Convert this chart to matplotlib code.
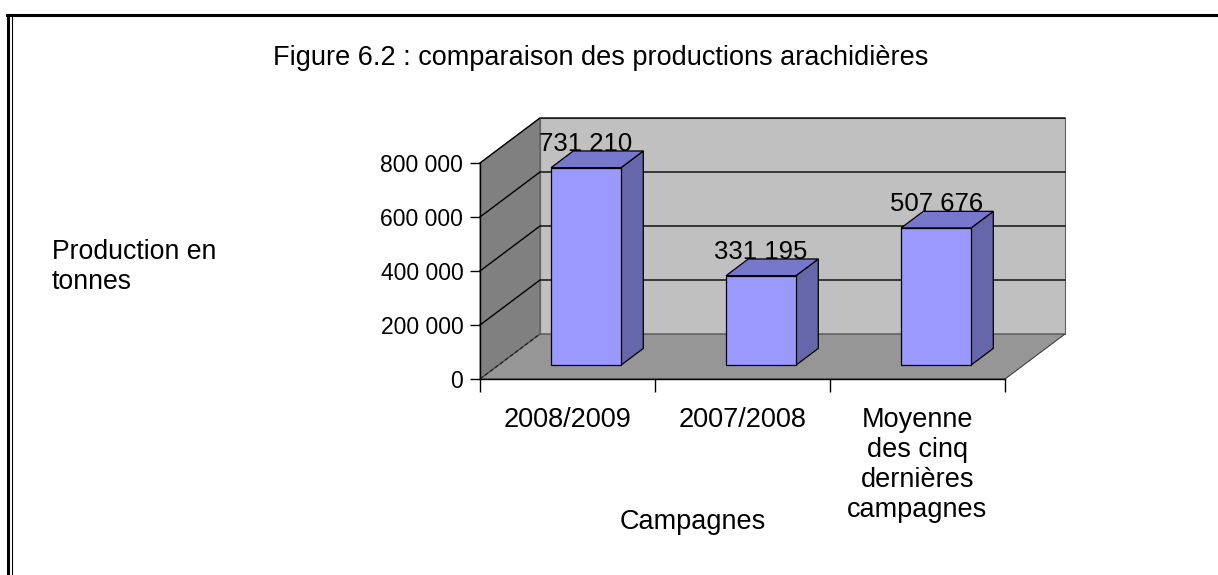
import matplotlib
matplotlib.use("Agg")
import matplotlib.pyplot as plt
from matplotlib.patches import Polygon
from matplotlib.lines import Line2D

plt.rcParams['font.family'] = ['Liberation Sans', 'DejaVu Sans']

# data
campagnes = ['2008/2009', '2007/2008', 'Moyenne\ndes cinq\ndernières\ncampagnes']
production = [731210, 331195, 507676]
labels = ['731 210', '331 195', '507 676']
yticks = [0, 200000, 400000, 600000, 800000]
ytick_labels = ['0', '200 000', '400 000', '600 000', '800 000']

W, H = 1218, 575
fig = plt.figure(figsize=(W / 100, H / 100), dpi=100)

# page frame (top rule + double rule on the left)
fig.add_artist(Line2D([7 / W, 1], [1 - 15 / H, 1 - 15 / H], color='black', lw=2.2))
fig.add_artist(Line2D([8 / W, 8 / W], [0, 1 - 15 / H], color='black', lw=2.2))
fig.add_artist(Line2D([11.5 / W, 11.5 / W], [0, 1 - 15 / H], color='black', lw=0.8))

# plot area (front floor edge: x 480..1005 px, y 379 px; 800 000 at y 163 px)
ax = fig.add_axes([480 / W, 1 - 379 / H, 525 / W, 216 / H])
n = len(production)
ymax = 800000
ax.set_xlim(0, n)
ax.set_ylim(0, ymax)

dx = 60 / 175          # depth offset in category units
dy = 45 / 216 * ymax   # depth offset in value units

def P(x, y, d):
    return (x + d * dx, y + d * dy)

# walls and floor
ax.add_patch(Polygon([P(0, 0, 0), P(0, ymax, 0), P(0, ymax, 1), P(0, 0, 1)],
                     closed=True, fc='#808080', ec='#555555', lw=0.6, clip_on=False, zorder=1))
ax.add_patch(Polygon([P(0, 0, 1), P(0, ymax, 1), P(n, ymax, 1), P(n, 0, 1)],
                     closed=True, fc='#C0C0C0', ec='#606060', lw=0.8, clip_on=False, zorder=1))
ax.add_patch(Polygon([P(0, 0, 0), P(n, 0, 0), P(n, 0, 1), P(0, 0, 1)],
                     closed=True, fc='#969696', ec='#404040', lw=0.8, clip_on=False, zorder=1))

# gridlines on left wall and back wall
for v in yticks:
    pts = [P(0, v, 0), P(0, v, 1), P(n, v, 1)]
    if v == 0:
        ax.plot([pts[0][0], pts[1][0]], [pts[0][1], pts[1][1]], color='#202020',
                lw=0.9, ls=(0, (3, 2)), clip_on=False, zorder=2)
    else:
        ax.plot([p[0] for p in pts], [p[1] for p in pts], color='black',
                lw=1.0, clip_on=False, zorder=2)

# bars
bw = 0.4
d0, d1 = 0.31, 0.68
for i, v in enumerate(production):
    xl = i + 0.5 - bw / 2
    xr = i + 0.5 + bw / 2
    side = [P(xr, 0, d0), P(xr, 0, d1), P(xr, v, d1), P(xr, v, d0)]
    top = [P(xl, v, d0), P(xr, v, d0), P(xr, v, d1), P(xl, v, d1)]
    front = [P(xl, 0, d0), P(xr, 0, d0), P(xr, v, d0), P(xl, v, d0)]
    ax.add_patch(Polygon(side, closed=True, fc='#6666AA', ec='black', lw=0.9, clip_on=False, zorder=3))
    ax.add_patch(Polygon(top, closed=True, fc='#7777CC', ec='black', lw=0.9, clip_on=False, zorder=3))
    ax.add_patch(Polygon(front, closed=True, fc='#9999FF', ec='black', lw=0.9, clip_on=False, zorder=4))
    lx = P(i + 0.5, v, d0)[0]
    ly = P(i + 0.5, v, d1)[1]
    ax.text(lx, ly + 1500, labels[i], ha='center', va='baseline',
            fontsize=18.5, color='black', zorder=5)

# axes styling
for s in ['top', 'right']:
    ax.spines[s].set_visible(False)
ax.spines['left'].set_bounds(0, ymax)
ax.spines['left'].set_linewidth(1.0)
ax.spines['bottom'].set_linewidth(1.0)
ax.spines['left'].set_zorder(6)
ax.spines['bottom'].set_zorder(6)
ax.patch.set_visible(False)

ax.set_yticks(yticks)
ax.set_yticklabels(ytick_labels)
ax.tick_params(axis='y', direction='out', length=7, width=1.0, pad=5, labelsize=16.5)

ax.set_xticks(range(n + 1))
ax.set_xticklabels([])
ax.tick_params(axis='x', which='major', direction='out', length=9, width=1.0)
ax.set_xticks([i + 0.5 for i in range(n)], minor=True)
ax.set_xticklabels(campagnes, minor=True, fontsize=19.5, linespacing=1.2, va='top')
ax.tick_params(axis='x', which='minor', length=0, pad=20)

# titles
fig.text(601 / W, 1 - 58 / H, 'Figure 6.2 : comparaison des productions arachidières',
         ha='center', va='center', fontsize=19.5)
fig.text(52 / W, 1 - 267 / H, 'Production en\ntonnes', ha='left', va='center',
         fontsize=19.2, linespacing=1.2)
fig.text(693 / W, 1 - 522 / H, 'Campagnes', ha='center', va='center', fontsize=19.5)

fig.savefig('out.png', dpi=100)
